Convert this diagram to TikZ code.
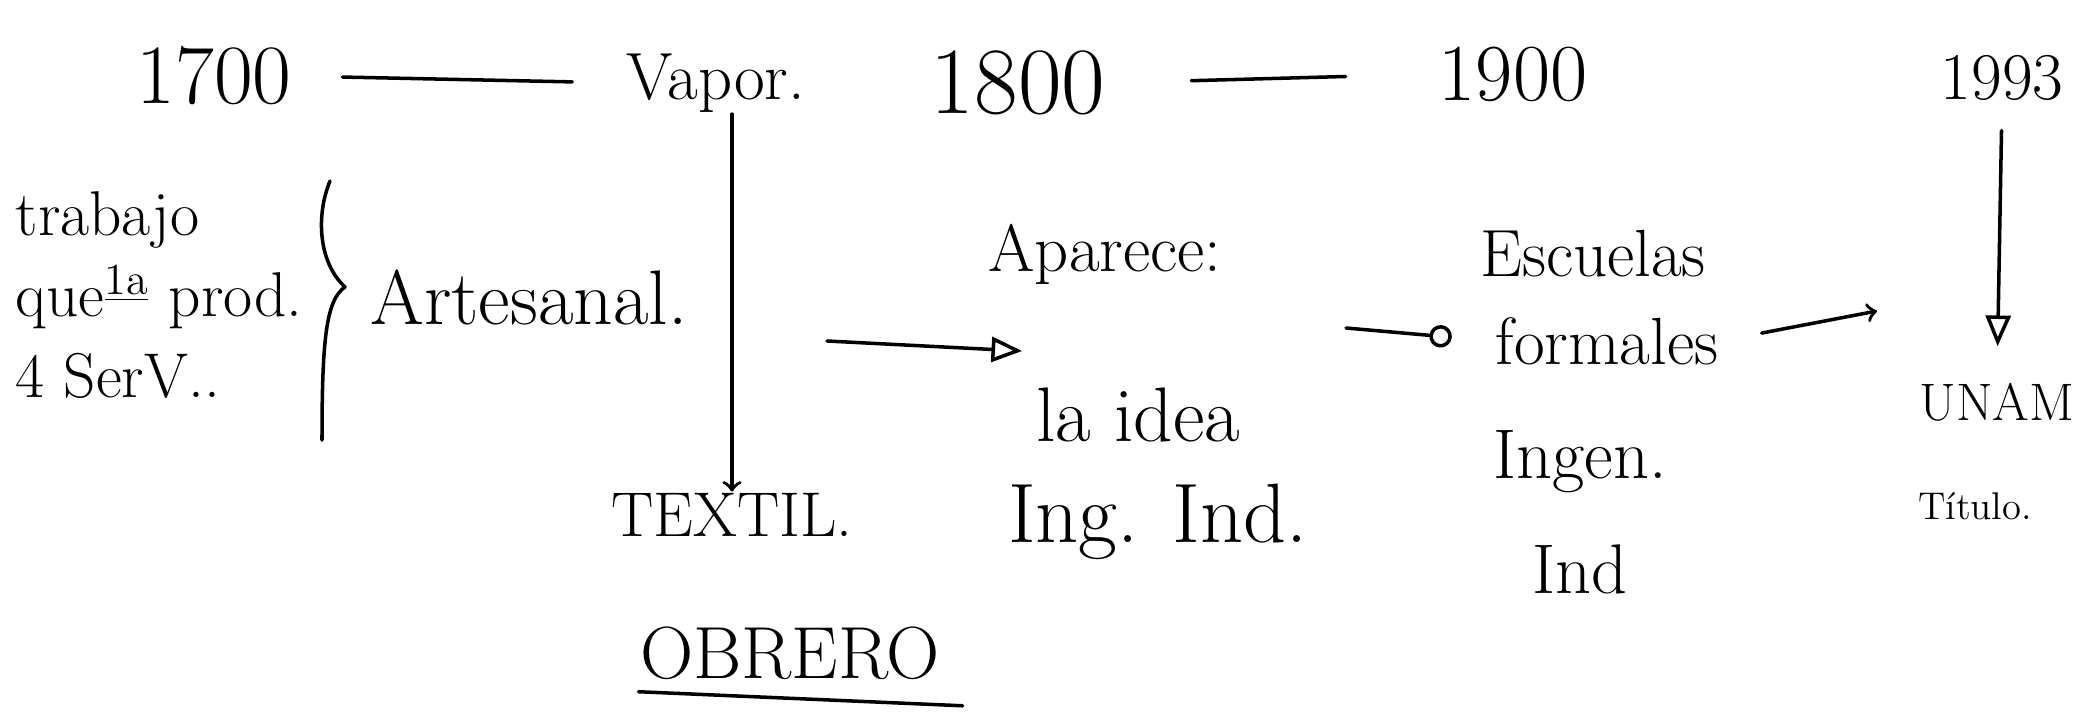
\documentclass[tikz,border=0pt]{standalone}
\usepackage{fontspec}
\usetikzlibrary{arrows}

\tikzset{
	hand/.style={inner sep=0pt, font=\fontsize{20}{24}\selectfont},
	yearlbl/.style={hand, font=\fontsize{24}{28}\selectfont},
}

\begin{document}
\begin{tikzpicture}[line cap=round,line join=round,>=to,x=0.01cm,y=-0.01cm,line width=1pt]
		\useasboundingbox (0,0) rectangle (2100,718);
		% fechas
		\node[yearlbl] (y1700) at (214,76) {1700};
		\node[hand, font=\fontsize{19}{22}\selectfont] (vapor) at (716,83) {Vapor.};
		\node[yearlbl, font=\fontsize{27}{30}\selectfont] (y1800) at (1018,83) {1800};
		\node[yearlbl, font=\fontsize{23}{26}\selectfont] (y1900) at (1513,74) {1900};
		\node[yearlbl, font=\fontsize{19}{22}\selectfont] (y1993) at (2002,78) {1993};
		\draw[shorten <=14pt, shorten >=15pt] (y1700.east) -- (vapor.west);
		\draw[shorten <=24pt, shorten >=26pt] (y1800.east) -- (y1900.west);
		% bloque izquierdo
		\node[hand, align=left, anchor=west, font=\fontsize{18}{23}\selectfont] (trabajo) at (14,295) {trabajo\\que\textsuperscript{\underline{1a}} prod.\\ 4 SerV..};
		\draw (330,181) .. controls (316,215) and (318,262) .. (345,287) .. controls (326,300) and (322,340) .. (322,440);
		\node[hand, font=\fontsize{22}{26}\selectfont] (artesanal) at (529,297) {Artesanal.};
		\node[hand, font=\fontsize{18}{22}\selectfont] (textil) at (732,515) {TEXTIL.};
		\node[hand, font=\fontsize{21}{24}\selectfont] (obrero) at (790,653) {OBRERO};
		\draw ([yshift=-3pt]obrero.south west) -- ([xshift=6pt,yshift=-7pt]obrero.south east);
		% centro
		\node[hand, font=\fontsize{19}{22}\selectfont] (aparece) at (1105,254) {Aparece:};
		\node[hand, font=\fontsize{22}{26}\selectfont] (laidea) at (1138,415) {la idea};
		\node[hand, font=\fontsize{24}{28}\selectfont] (ingind) at (1158,522) {Ing. Ind.};
		% escuelas
		\node[hand, font=\fontsize{19}{22}\selectfont] (escuelas) at (1593,254) {Escuelas};
		\node[hand, font=\fontsize{19}{22}\selectfont] (formales) at (1607,341) {formales};
		\node[hand] (ingen) at (1580,462) {Ingen.};
		\node[hand] (ind) at (1580,569) {Ind};
		% UNAM
		\node[hand, font=\fontsize{15}{18}\selectfont] (unam) at (1997,402) {UNAM};
		\node[hand, font=\fontsize{11}{13}\selectfont] (titulo) at (1975,506) {Título.};
		% flechas
		\coordinate (s1) at (827,341);
		\coordinate (t1) at (1022,351);
		\coordinate (s2) at (1346,328);
		\coordinate (t3) at (1877,311);
		\draw[->] (textil.north |- vapor.south) -- (textil.north);
		\draw[-open triangle 45] (s1) -- (t1);
		\draw[-o, shorten >=12pt] (s2) -- (formales.west);
		\draw[->, shorten <=12pt] (formales.east) -- (t3);
		\draw[-open triangle 45, shorten <=8pt, shorten >=10pt] (y1993.south) -- (unam.north);
	\end{tikzpicture}
\end{document}
